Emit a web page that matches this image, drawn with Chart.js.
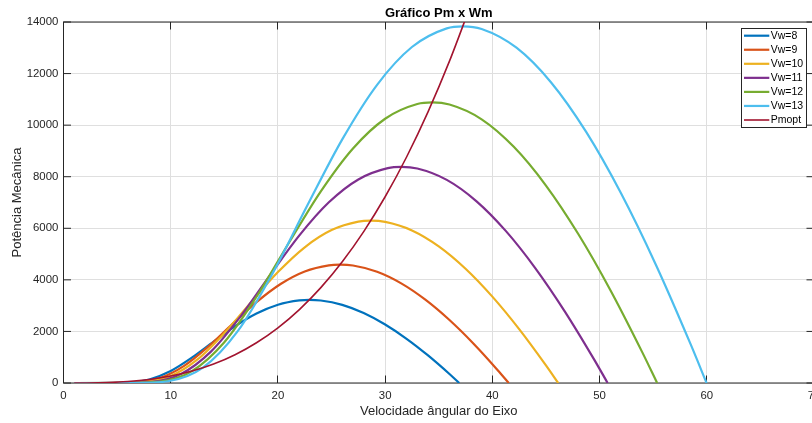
<!DOCTYPE html>
<html>
<head>
<meta charset="utf-8">
<script src="https://cdn.jsdelivr.net/npm/chart.js@4.4.1/dist/chart.umd.min.js"></script>
<style>
  html, body { margin: 0; padding: 0; background: #ffffff; }
  #wrap { width: 812px; height: 423px; overflow: hidden; position: relative; }
  canvas { display: block; }
</style>
</head>
<body>
<div id="wrap"><canvas id="chart" width="840" height="423"></canvas></div>
<script>
// Mechanical power (W) of the turbine versus shaft angular speed (rad/s), one curve per wind speed
const seriesLabels = ['Vw=8', 'Vw=9', 'Vw=10', 'Vw=11', 'Vw=12', 'Vw=13', 'Pmopt'];
const seriesColors = ['#0072BD', '#D95319', '#EDB120', '#7E2F8E', '#77AC30', '#4DBEEE', '#A2142F'];

const omegaVw8  = [1, 4, 6, 8, 10, 12, 14, 16, 18, 20, 22, 22.93, 24, 26, 28, 30, 32, 34, 36, 36.91];
const powerVw8  = [0, 0, 16, 138, 468, 991, 1606, 2202, 2695, 3037, 3205, 3224, 3200, 3030, 2714, 2269, 1715, 1069, 349, 0];

const omegaVw9  = [1, 4.5, 6.75, 9, 11.25, 13.5, 15.75, 18, 20.25, 22.5, 24.75, 25.8, 27, 29.25, 31.5, 33.75, 36, 38.25, 40.5, 41.53];
const powerVw9  = [0, 0, 23, 197, 667, 1411, 2287, 3135, 3838, 4324, 4564, 4590, 4556, 4314, 3864, 3231, 2442, 1523, 497, 0];

const omegaVw10 = [1, 5, 7.5, 10, 12.5, 15, 17.5, 20, 22.5, 25, 27.5, 28.66, 30, 32.5, 35, 37.5, 40, 42.5, 45, 46.14];
const powerVw10 = [0, 0, 31, 270, 915, 1935, 3137, 4301, 5264, 5931, 6260, 6296, 6249, 5918, 5300, 4432, 3349, 2089, 682, 0];

const omegaVw11 = [1, 5.5, 8.25, 11, 13.75, 16.5, 19.25, 22, 24.75, 27.5, 30.25, 31.53, 33, 35.75, 38.5, 41.25, 44, 46.75, 49.5, 50.75];
const powerVw11 = [0, 0, 41, 360, 1217, 2576, 4175, 5724, 7007, 7894, 8332, 8380, 8318, 7877, 7055, 5899, 4458, 2780, 907, 0];

const omegaVw12 = [1, 6, 9, 12, 15, 18, 21, 24, 27, 30, 33, 34.4, 36, 39, 42, 45, 48, 51, 54, 55.37];
const powerVw12 = [0, 1, 53, 467, 1581, 3344, 5420, 7432, 9096, 10249, 10818, 10880, 10798, 10226, 9159, 7658, 5787, 3609, 1178, 0];

const omegaVw13 = [1, 6.5, 9.75, 13, 16.25, 19.5, 22.75, 26, 29.25, 32.5, 35.75, 37.26, 39, 42.25, 45.5, 48.75, 52, 55.25, 58.5, 59.98];
const powerVw13 = [0, 1, 68, 594, 2010, 4252, 6891, 9449, 11565, 13030, 13753, 13832, 13729, 13002, 11645, 9736, 7358, 4589, 1497, 0];

// Optimal power locus through the peaks of the curves
const omegaOpt  = [1, 2, 4, 6, 8, 10, 12, 14, 16, 18, 20, 22, 24, 26, 28, 30, 32, 34, 36, 38];
const powerOpt  = [0, 2, 17, 58, 137, 268, 462, 734, 1096, 1560, 2140, 2848, 3698, 4702, 5872, 7223, 8765, 10514, 12481, 14678];

const xTicks = [0, 10, 20, 30, 40, 50, 60, 70];
const yTicks = [0, 2000, 4000, 6000, 8000, 10000, 12000, 14000];

const titleText  = 'Gráfico Pm x Wm';
const xTitleText = 'Velocidade ângular do Eixo';
const yTitleText = 'Potência Mecânica';

const FONT = '"Liberation Sans", Arial, Helvetica, sans-serif';
const AXIS_COLOR = '#262626';

const omegaSets = [omegaVw8, omegaVw9, omegaVw10, omegaVw11, omegaVw12, omegaVw13, omegaOpt];
const powerSets = [powerVw8, powerVw9, powerVw10, powerVw11, powerVw12, powerVw13, powerOpt];

const datasets = seriesLabels.map((label, i) => ({
  label,
  data: omegaSets[i].map((w, k) => ({ x: w, y: powerSets[i][k] })),
  borderColor: seriesColors[i],
  backgroundColor: seriesColors[i],
  borderWidth: i === 6 ? 1.6 : 2.2,
  pointRadius: 0,
  pointHoverRadius: 0,
  fill: false,
  cubicInterpolationMode: 'monotone',
  order: seriesLabels.length - i   // later series drawn on top
}));

// Axes box with inward tick marks
const axesBox = {
  id: 'axesBox',
  beforeDatasetsDraw(chart) {
    const { ctx, chartArea: a, scales: { x, y } } = chart;
    const len = 7.5;
    ctx.save();
    ctx.strokeStyle = AXIS_COLOR;
    ctx.lineWidth = 1;
    ctx.beginPath();
    xTicks.forEach(v => {
      const px = Math.round(x.getPixelForValue(v) - 0.5) + 0.5;
      ctx.moveTo(px, a.bottom); ctx.lineTo(px, a.bottom - len);
      ctx.moveTo(px, a.top); ctx.lineTo(px, a.top + len);
    });
    yTicks.forEach(v => {
      const py = y.getPixelForValue(v);
      ctx.moveTo(a.left, py); ctx.lineTo(a.left + len, py);
      ctx.moveTo(a.right, py); ctx.lineTo(a.right - len, py);
    });
    ctx.stroke();
    ctx.strokeRect(a.left, a.top, a.right - a.left, a.bottom - a.top);
    ctx.restore();
  },
  afterDraw(chart) {
    const { ctx, chartArea: a } = chart;
    ctx.save();
    // title
    ctx.fillStyle = '#000000';
    ctx.font = 'bold 13px ' + FONT;
    ctx.textAlign = 'center';
    ctx.textBaseline = 'alphabetic';
    ctx.fillText(titleText, (a.left + a.right) / 2, 17.3);

    // legend box in the upper right corner
    const bw = 65, bh = 99;
    const bx = a.right - 72.5, by = a.top + 6.5;
    ctx.fillStyle = '#ffffff';
    ctx.fillRect(bx, by, bw, bh);
    ctx.strokeStyle = AXIS_COLOR;
    ctx.lineWidth = 1;
    ctx.strokeRect(bx, by, bw, bh);
    ctx.font = '10.5px ' + FONT;
    ctx.textAlign = 'left';
    ctx.textBaseline = 'middle';
    chart.data.datasets.forEach((ds, i) => {
      const cy = by + 7.2 + i * 14.05;
      ctx.strokeStyle = ds.borderColor;
      ctx.lineWidth = ds.borderWidth;
      ctx.beginPath();
      ctx.moveTo(bx + 2.5, cy);
      ctx.lineTo(bx + 27.8, cy);
      ctx.stroke();
      ctx.fillStyle = '#000000';
      ctx.fillText(ds.label, bx + 29.2, cy + 0.5);
    });
    ctx.restore();
  }
};

new Chart(document.getElementById('chart'), {
  type: 'line',
  data: { datasets },
  options: {
    responsive: false,
    animation: false,
    devicePixelRatio: 1,
    layout: { padding: { left: 0, top: 22, right: 26, bottom: 0 } },
    plugins: {
      legend: { display: false },
      title: { display: false },
      tooltip: { enabled: false }
    },
    scales: {
      x: {
        type: 'linear',
        min: 0,
        max: 70,
        afterBuildTicks: s => { s.ticks = xTicks.map(v => ({ value: v })); },
        afterFit: s => { s.height = 40; },
        ticks: {
          autoSkip: false,
          maxRotation: 0,
          padding: 6,
          color: AXIS_COLOR,
          font: { family: FONT, size: 11.4 },
          callback: v => String(v)
        },
        grid: { color: '#dfdfdf', lineWidth: 1, drawTicks: false },
        border: { display: false },
        title: {
          display: true,
          text: xTitleText,
          color: AXIS_COLOR,
          font: { family: FONT, size: 13 },
          padding: { top: 0, bottom: 3.9 }
        }
      },
      y: {
        type: 'linear',
        min: 0,
        max: 14000,
        afterBuildTicks: s => { s.ticks = yTicks.map(v => ({ value: v })); },
        afterFit: s => { s.width = 63.5; },
        ticks: {
          autoSkip: false,
          padding: 5.2,
          color: AXIS_COLOR,
          font: { family: FONT, size: 11.4 },
          callback: v => String(v)
        },
        grid: { color: '#dfdfdf', lineWidth: 1, drawTicks: false },
        border: { display: false },
        title: {
          display: true,
          text: yTitleText,
          color: AXIS_COLOR,
          font: { family: FONT, size: 13 },
          padding: { top: 10, bottom: 0 }
        }
      }
    }
  },
  plugins: [axesBox]
});
</script>
</body>
</html>
